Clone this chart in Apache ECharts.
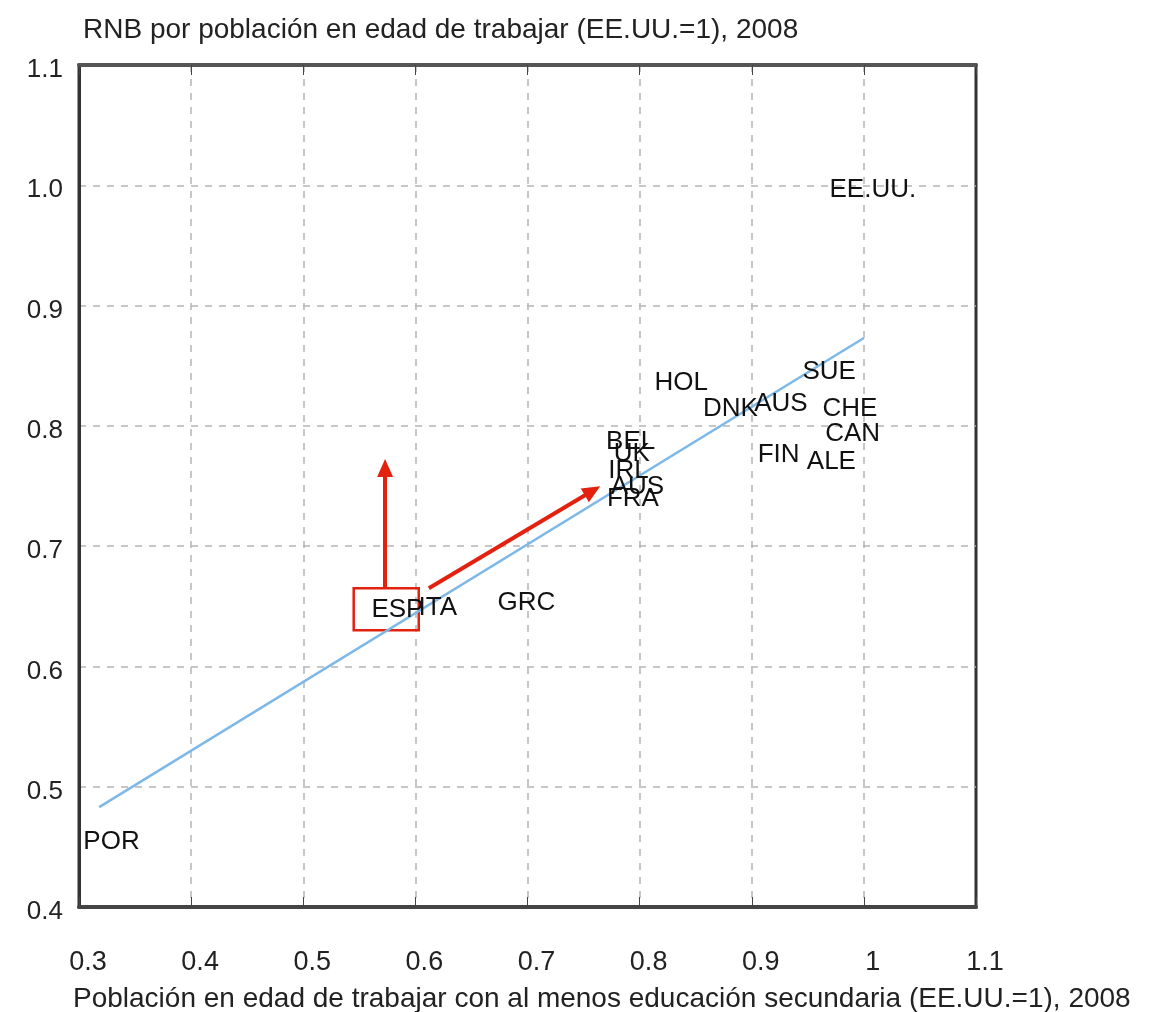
<!DOCTYPE html>
<html><head><meta charset="utf-8">
<script src="https://cdn.jsdelivr.net/npm/echarts@6/dist/echarts.min.js"></script>
<style>html,body{margin:0;padding:0;background:#fff}#c{width:1154px;height:1012px}</style>
</head><body><div id="c"></div>
<script>
var countries = ['EE.UU.','SUE','HOL','DNK','AUS','CHE','CAN','FIN','ALE','BEL','UK','IRL','AUS','FRA','ESP','ITA','GRC','POR'];
var eduValues = [1.008,0.969,0.837,0.881,0.926,0.9875,0.990,0.924,0.971,0.792,0.793,0.790,0.798,0.794,0.584,0.620,0.699,0.329];
var gniValues = [0.996,0.845,0.836,0.814,0.818,0.814,0.793,0.776,0.770,0.787,0.777,0.763,0.749,0.739,0.647,0.649,0.653,0.454];
var fitLine = [[0.318,0.483],[1.0,0.873]];
var arrowUp = [[0.573,0.665],[0.573,0.765]];
var arrowDiag = [[0.612,0.665],[0.758,0.746]];
var espBox = [[0.545,0.630],[0.603,0.665]];
var xTicks = [0.3,0.4,0.5,0.6,0.7,0.8,0.9,1,1.1];
var yTicks = ['0.4','0.5','0.6','0.7','0.8','0.9','1.0','1.1'];
var titleY = 'RNB por población en edad de trabajar (EE.UU.=1), 2008';
var titleX = 'Población en edad de trabajar con al menos educación secundaria (EE.UU.=1), 2008';

var font = 'Liberation Sans, Arial, sans-serif';
var chart = echarts.init(document.getElementById('c'));
var pts = countries.map(function(n,i){return [eduValues[i], gniValues[i], n];});
var red = '#e3210f';
chart.setOption({
  animation:false,
  title:[
    {text:titleY,left:78,top:11,textStyle:{fontFamily:font,fontSize:28,fontWeight:'normal',color:'#222'}},
    {text:titleX,left:68,top:980,textStyle:{fontFamily:font,fontSize:28,fontWeight:'normal',color:'#222'}}
  ],
  grid:{left:79,right:178,top:65,bottom:105,show:true,borderColor:'#333',borderWidth:3},
  xAxis:[{
    type:'value',min:0.3,max:1.1,interval:0.1,position:'bottom',
    axisLine:{show:true,onZero:false,lineStyle:{color:'#444',width:4}},
    axisTick:{show:true,inside:true,length:10,lineStyle:{color:'#444'}},
    axisLabel:{margin:42,padding:[0,0,0,18],fontFamily:font,fontSize:27,color:'#222',
      formatter:function(v){var r=Math.round(v*10)/10;return xTicks.indexOf(r)>=0?String(r):'';}},
    splitLine:{show:true,showMinLine:false,showMaxLine:false,lineStyle:{color:'#b5b5b5',type:[7,7],width:1.5}}
  },{
    type:'value',min:0.3,max:1.1,interval:0.1,position:'top',
    axisLine:{show:true,onZero:false,lineStyle:{color:'#555',width:4}},
    axisTick:{show:true,inside:true,length:10,lineStyle:{color:'#444'}},
    axisLabel:{show:false},splitLine:{show:false}
  }],
  yAxis:{
    type:'value',min:0.4,max:1.1,interval:0.1,
    axisLine:{show:true,onZero:false,lineStyle:{color:'#333',width:3}},
    axisTick:{show:false},
    axisLabel:{margin:16,fontFamily:font,fontSize:26,color:'#222',
      formatter:function(v){return '{a|'+yTicks[Math.round((v-0.4)*10)]+'}';},
      rich:{a:{fontFamily:font,fontSize:26,color:'#222',padding:[10,0,0,0]}}},
    splitLine:{show:true,showMinLine:false,showMaxLine:false,lineStyle:{color:'#b5b5b5',type:[7,7],width:1.5}}
  },
  series:[
    {type:'line',data:fitLine,symbol:'none',lineStyle:{color:'#7db8e8',width:2.5},z:3,
     markArea:{silent:true,itemStyle:{color:'rgba(0,0,0,0)',borderColor:red,borderWidth:2.5},
       data:[[{coord:espBox[0]},{coord:espBox[1]}]]},
     markLine:{silent:true,symbol:['none','triangle'],symbolSize:[16,18],label:{show:false},
       lineStyle:{color:red,width:4,type:'solid'},
       data:[[{coord:arrowUp[0]},{coord:arrowUp[1]}],[{coord:arrowDiag[0]},{coord:arrowDiag[1]}]]}
    },
    {type:'scatter',data:pts,symbolSize:1,itemStyle:{color:'rgba(0,0,0,0)'},z:5,
     label:{show:true,position:'inside',formatter:function(p){return p.data[2];},
       fontFamily:font,fontSize:26,color:'#111',opacity:1,textBorderWidth:0}}
  ]
});
</script></body></html>
